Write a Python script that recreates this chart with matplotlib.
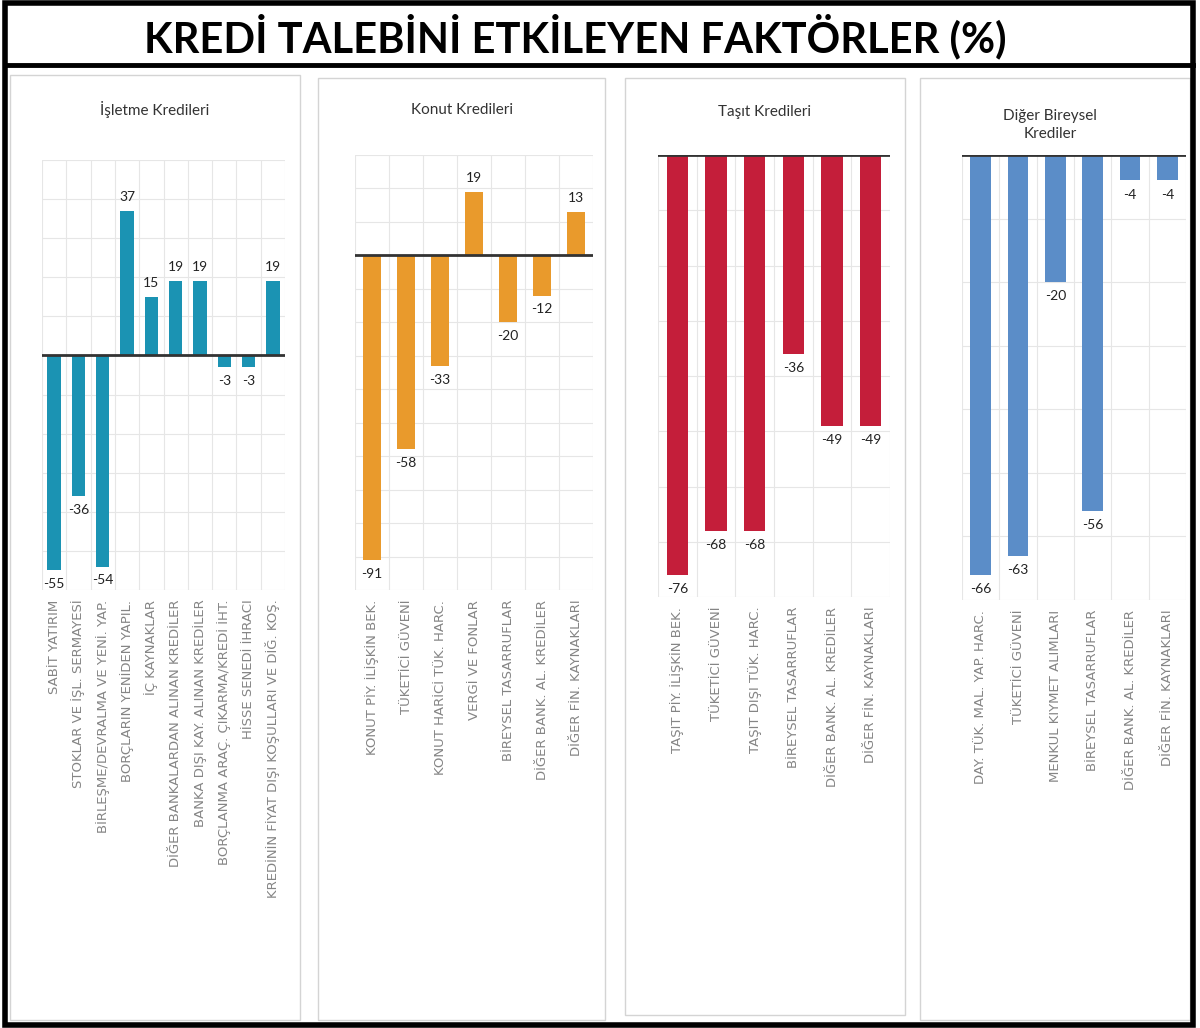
import matplotlib
matplotlib.use("Agg")
import matplotlib.pyplot as plt
from matplotlib.patches import Rectangle
from matplotlib.lines import Line2D

W, H = 1200, 1028
FONT = ["Lato", "DejaVu Sans"]

############# DATA ###############
TITLE = "KREDİ TALEBİNİ ETKİLEYEN FAKTÖRLER (%)"

isletme_labels = [
    "SABİT YATIRIM",
    "STOKLAR VE İŞL. SERMAYESİ",
    "BİRLEŞME/DEVRALMA VE YENİ. YAP.",
    "BORÇLARIN YENİDEN YAPIL.",
    "İÇ KAYNAKLAR",
    "DİĞER BANKALARDAN ALINAN KREDİLER",
    "BANKA DIŞI KAY. ALINAN KREDİLER",
    "BORÇLANMA ARAÇ. ÇIKARMA/KREDİ İHT.",
    "HİSSE SENEDİ İHRACI",
    "KREDİNİN FİYAT DIŞI KOŞULLARI VE DİĞ. KOŞ.",
]
isletme_values = [-55, -36, -54, 37, 15, 19, 19, -3, -3, 19]

konut_labels = [
    "KONUT PİY. İLİŞKİN BEK.",
    "TÜKETİCİ GÜVENİ",
    "KONUT HARİCİ TÜK. HARC.",
    "VERGİ VE FONLAR",
    "BİREYSEL TASARRUFLAR",
    "DİĞER BANK. AL. KREDİLER",
    "DİĞER FİN. KAYNAKLARI",
]
konut_values = [-91, -58, -33, 19, -20, -12, 13]

tasit_labels = [
    "TAŞIT PİY. İLİŞKİN BEK.",
    "TÜKETİCİ GÜVENİ",
    "TAŞIT DIŞI TÜK. HARC.",
    "BİREYSEL TASARRUFLAR",
    "DİĞER BANK. AL. KREDİLER",
    "DİĞER FİN. KAYNAKLARI",
]
tasit_values = [-76, -68, -68, -36, -49, -49]

diger_labels = [
    "DAY. TÜK. MAL. YAP. HARC.",
    "TÜKETİCİ GÜVENİ",
    "MENKUL KIYMET ALIMLARI",
    "BİREYSEL TASARRUFLAR",
    "DİĞER BANK. AL. KREDİLER",
    "DİĞER FİN. KAYNAKLARI",
]
diger_values = [-66, -63, -20, -56, -4, -4]
##################################

# panel box (px), title position (px), axes box (px), ylim, color
PANELS = [
    ("İşletme Kredileri", isletme_labels, isletme_values,
     (10, 75, 300, 1020), (155, 110), (42, 160, 285, 590), (-60, 50), "#1B93B3"),
    ("Konut Kredileri", konut_labels, konut_values,
     (318, 78, 605, 1020), (462, 110), (355, 155, 593, 590), (-100, 30), "#E99A2C"),
    ("Taşıt Kredileri", tasit_labels, tasit_values,
     (625, 78, 905, 1015), (765, 112), (658, 155, 890, 597), (-80, 0), "#C41E3A"),
    ("Diğer Bireysel\nKrediler", diger_labels, diger_values,
     (920, 78, 1190, 1020), (1050, 125), (962, 155, 1186, 600), (-70, 0), "#5B8DC8"),
]


def frac(x0, y0, x1, y1):
    return [x0 / W, 1 - y1 / H, (x1 - x0) / W, (y1 - y0) / H]


fig = plt.figure(figsize=(W / 100, H / 100), dpi=100)
fig.patch.set_facecolor("white")

for title, labels, values, pbox, tpos, abox, ylim, color in PANELS:
    # light panel frame
    px0, py0, px1, py1 = pbox
    fig.patches.append(Rectangle((px0 / W, 1 - py1 / H), (px1 - px0) / W, (py1 - py0) / H,
                                 transform=fig.transFigure, fill=False,
                                 edgecolor="#d4d4d4", linewidth=1.0))
    fig.text(tpos[0] / W, 1 - tpos[1] / H, title, ha="center", va="center",
             fontsize=11, color="#333333", family=FONT, linespacing=1.3)

    ax = fig.add_axes(frac(*abox))
    n = len(values)
    xs = list(range(n))
    ax.bar(xs, values, width=0.55, color=color, zorder=3)
    ax.set_xlim(-0.5, n - 0.5)
    ax.set_ylim(*ylim)

    # grid
    for y in range(ylim[0], ylim[1] + 1, 10):
        ax.axhline(y, color="#e6e6e6", linewidth=0.8, zorder=1)
    for i in range(n + 1):
        ax.axvline(i - 0.5, color="#e6e6e6", linewidth=0.8, zorder=1)
    ax.axhline(0, color="#333333", linewidth=2.0, zorder=4)

    for s in ax.spines.values():
        s.set_visible(False)
    ax.set_yticks([])
    ax.set_xticks(xs)
    ax.set_xticklabels(labels, rotation=90, ha="center", va="top",
                       fontsize=9.5, color="#858585", family="DejaVu Sans")
    ax.tick_params(axis="x", length=0, pad=7)

    span = ylim[1] - ylim[0]
    for x, v in zip(xs, values):
        if v >= 0:
            ax.text(x, v + 2.0 * span / 110, str(v), ha="center", va="bottom",
                    fontsize=10, color="#222222", family=FONT, zorder=5)
        else:
            ax.text(x, v - 2.0 * span / 110, str(v), ha="center", va="top",
                    fontsize=10, color="#222222", family=FONT, zorder=5)

# title band and outer border
fig.text(575 / W, 1 - 36 / H, TITLE, ha="center", va="center",
         fontsize=30, fontweight="bold", color="black", family=FONT)
fig.lines.append(Line2D([5 / W, 1193 / W], [1 - 65 / H, 1 - 65 / H],
                        transform=fig.transFigure, color="black", linewidth=3.5))
fig.patches.append(Rectangle((5 / W, 1 - 1025 / H), 1188 / W, 1022 / H,
                             transform=fig.transFigure, fill=False,
                             edgecolor="black", linewidth=4.0))

fig.savefig("out.png", dpi=100, facecolor="white")
